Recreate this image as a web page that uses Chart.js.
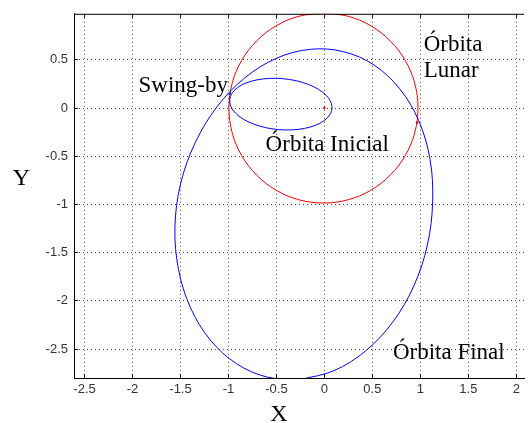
<!DOCTYPE html>
<html>
<head>
<meta charset="utf-8">
<script src="https://cdn.jsdelivr.net/npm/chart.js@4.4.1/dist/chart.umd.min.js"></script>
<style>
  body { margin: 0; background: #fff; }
</style>
</head>
<body>
<canvas id="orbits" width="528" height="423"></canvas>
<script>
// Órbita Lunar (red)
const lunarX = [-0.01, -0.265, -0.503, -0.706, -0.863, -0.962, -0.995, -0.962, -0.863, -0.706, -0.503, -0.265,
  -0.01, 0.245, 0.483, 0.686, 0.843, 0.942, 0.975, 0.942, 0.843, 0.686, 0.483, 0.245, -0.01];
const lunarY = [0.985, 0.952, 0.853, 0.696, 0.493, 0.255, 0, -0.255, -0.493, -0.696, -0.853, -0.952,
  -0.985, -0.952, -0.853, -0.696, -0.493, -0.255, 0, 0.255, 0.493, 0.696, 0.853, 0.952, 0.985];

// Órbita Inicial (small blue loop)
const initialX = [-0.988, -0.976, -0.928, -0.848, -0.742, -0.615, -0.478, -0.339, -0.209, -0.095, -0.005, 0.054,
  0.078, 0.066, 0.018, -0.062, -0.169, -0.295, -0.432, -0.571, -0.702, -0.816, -0.905, -0.964, -0.988];
const initialY = [0.087, 0.017, -0.052, -0.114, -0.165, -0.203, -0.224, -0.227, -0.212, -0.18, -0.132, -0.073,
  -0.007, 0.064, 0.132, 0.194, 0.245, 0.283, 0.304, 0.307, 0.292, 0.26, 0.212, 0.153, 0.087];

// Órbita Final (big blue loop)
const finalX = [-0.249, -0.595, -0.916, -1.189, -1.395, -1.521, -1.558, -1.499, -1.347, -1.118, -0.828, -0.497,
  -0.146, 0.200, 0.518, 0.785, 0.984, 1.101, 1.128, 1.073, 0.931, 0.711, 0.427, 0.100, -0.249];
const finalY = [-2.816, -2.791, -2.652, -2.406, -2.073, -1.673, -1.234, -0.786, -0.360, 0.015, 0.314, 0.517,
  0.609, 0.584, 0.445, 0.199, -0.134, -0.534, -0.973, -1.421, -1.847, -2.222, -2.521, -2.724, -2.816];

// small marks: Terra, Lua no swing-by, Lua no cruzamento
const markX = [0, -0.985, 0.965];
const markY = [0, 0.15, -0.15];
const markColors = ['#ff0000', '#3030a0', '#cc0000'];

const xTicks = [-2.5, -2, -1.5, -1, -0.5, 0, 0.5, 1, 1.5, 2];
const yTicks = [-2.5, -2, -1.5, -1, -0.5, 0, 0.5];
const xRange = [-2.61, 2.08];
const yRange = [-2.80, 0.977];

const notes = [
    { text: 'Swing-by', x: -1.938, y: 0.162 },
    { text: 'Órbita Inicial', x: -0.613, y: -0.447 },
    { text: 'Órbita', x: 1.034, y: 0.592 },
    { text: 'Lunar', x: 1.034, y: 0.317 },
    { text: 'Órbita Final', x: 0.714, y: -2.60 }
];

const toPoints = (xs, ys) => xs.map((v, i) => ({ x: v, y: ys[i] }));

const lineSet = (xs, ys, color) => ({
    data: toPoints(xs, ys),
    showLine: true,
    borderColor: color,
    borderWidth: 1,
    pointRadius: 0,
    tension: 0.35,
    fill: false
});

// Matlab-like frame: top border, inward ticks, annotations and axis names
const matlabFrame = {
    id: 'matlabFrame',
    afterDraw(chart) {
        const { ctx, chartArea: a, scales: { x, y } } = chart;
        ctx.save();
        ctx.strokeStyle = '#000';
        ctx.lineWidth = 1;
        ctx.beginPath();
        ctx.moveTo(a.left, a.top + 0.5);
        ctx.lineTo(a.right, a.top + 0.5);
        xTicks.forEach(v => {
            const px = Math.round(x.getPixelForValue(v) - 0.5) + 0.5;
            ctx.moveTo(px, a.bottom);
            ctx.lineTo(px, a.bottom - 4);
            ctx.moveTo(px, a.top);
            ctx.lineTo(px, a.top + 4);
        });
        yTicks.forEach(v => {
            const py = Math.round(y.getPixelForValue(v) - 0.5) + 0.5;
            ctx.moveTo(a.left, py);
            ctx.lineTo(a.left + 4, py);
        });
        ctx.stroke();

        ctx.fillStyle = '#000';
        ctx.font = '23px "Liberation Serif"';
        ctx.textAlign = 'left';
        ctx.textBaseline = 'alphabetic';
        notes.forEach(n => {
            ctx.fillText(n.text, x.getPixelForValue(n.x), y.getPixelForValue(n.y));
        });

        ctx.font = '24px "Liberation Serif"';
        ctx.textAlign = 'center';
        ctx.fillText('X', 279, 421);
        ctx.fillText('Y', 21.5, 185);
        ctx.restore();
    }
};

const axisFont = { family: 'Liberation Sans', size: 13 };

new Chart(document.getElementById('orbits'), {
    type: 'scatter',
    data: {
        datasets: [
            {
                data: toPoints(markX, markY),
                pointRadius: 1.2,
                pointBackgroundColor: markColors,
                pointBorderWidth: 0
            },
            lineSet(initialX, initialY, '#0000ff'),
            lineSet(finalX, finalY, '#0000ff'),
            lineSet(lunarX, lunarY, '#ff0000')
        ]
    },
    options: {
        responsive: false,
        animation: false,
        devicePixelRatio: 1,
        layout: { padding: { top: 12, right: 0, left: 0, bottom: 0 } },
        plugins: {
            legend: { display: false },
            tooltip: { enabled: false }
        },
        scales: {
            x: {
                type: 'linear',
                min: xRange[0],
                max: xRange[1],
                afterBuildTicks: s => { s.ticks = xTicks.map(v => ({ value: v })); },
                afterFit: s => { s.height = 45; },
                grid: { color: 'rgba(0,0,0,0.75)', drawTicks: false, lineWidth: 1 },
                border: { display: true, color: '#000', width: 1, dash: [1, 3] },
                ticks: { padding: 4, color: '#333', font: axisFont, maxRotation: 0, autoSkip: false, callback: v => String(v) }
            },
            y: {
                type: 'linear',
                min: yRange[0],
                max: yRange[1],
                afterBuildTicks: s => { s.ticks = yTicks.map(v => ({ value: v })); },
                afterFit: s => { s.width = 74; },
                grid: { color: 'rgba(0,0,0,0.75)', drawTicks: false, lineWidth: 1 },
                border: { display: true, color: '#000', width: 1, dash: [1, 3] },
                ticks: { padding: 6, color: '#333', font: axisFont, autoSkip: false, callback: v => String(v) }
            }
        }
    },
    plugins: [matlabFrame]
});
</script>
</body>
</html>
